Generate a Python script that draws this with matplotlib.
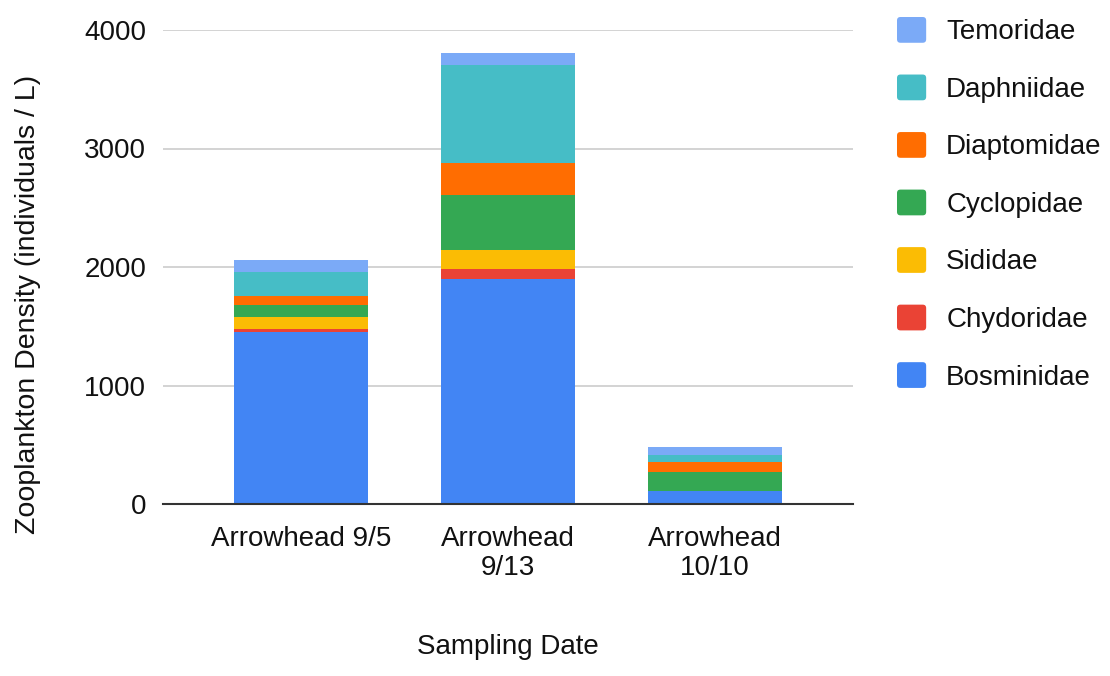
import matplotlib
matplotlib.use("Agg")
import matplotlib.pyplot as plt
from matplotlib.patches import Patch, FancyBboxPatch
from matplotlib.legend_handler import HandlerPatch

plt.rcParams['font.family'] = ['Liberation Sans', 'DejaVu Sans']

samples = ["Arrowhead 9/5", "Arrowhead\n9/13", "Arrowhead\n10/10"]
families = ["Bosminidae", "Chydoridae", "Sididae", "Cyclopidae",
            "Diaptomidae", "Daphniidae", "Temoridae"]
bosminidae = [1455, 1896, 112]
chydoridae = [20, 85, 0]
sididae = [100, 162, 0]
cyclopidae = [102, 465, 161]
diaptomidae = [78, 267, 84]
daphniidae = [203, 830, 57]
temoridae = [101, 98, 64]
series = [bosminidae, chydoridae, sididae, cyclopidae,
          diaptomidae, daphniidae, temoridae]
colors = ["#4285F4", "#EA4335", "#FBBC04", "#34A853",
          "#FF6D01", "#46BDC6", "#7BAAF7"]
yticks = [0, 1000, 2000, 3000, 4000]

FS = 20
TXT = '#111111'

fig = plt.figure(figsize=(11.10, 6.76), dpi=100)
ax = fig.add_axes([163 / 1110, 1 - 504 / 676, 690 / 1110, 474 / 676])

x = list(range(len(samples)))
bottom = [0] * len(samples)
for vals, col in zip(series, colors):
    ax.bar(x, vals, bottom=bottom, width=0.647, color=col, zorder=3,
           linewidth=0)
    bottom = [b + v for b, v in zip(bottom, vals)]

ax.set_xlim(-0.667, 2.667)
ax.set_ylim(0, 4000)
ax.set_yticks(yticks)
ax.set_yticklabels([str(t) for t in yticks])
ax.set_xticks(x)
ax.set_xticklabels(samples, linespacing=1.15)
ax.grid(axis='y', color='#cccccc', linewidth=1.2, zorder=0)
for side in ['left', 'right', 'top']:
    ax.spines[side].set_visible(False)
ax.spines['bottom'].set_color('#333333')
ax.spines['bottom'].set_linewidth(1.5)
ax.spines['bottom'].set_zorder(4)
ax.tick_params(axis='both', length=0, labelsize=FS, colors=TXT)
ax.tick_params(axis='x', pad=16)
ax.tick_params(axis='y', pad=12)

ax.set_xlabel("Sampling Date", fontsize=FS, color=TXT)
ax.xaxis.set_label_coords(0.5, (504 - 647) / 474, transform=ax.transAxes)
ax.xaxis.label.set_va('center')
ax.set_ylabel("Zooplankton Density (individuals / L)", fontsize=20.5,
              color=TXT)
ax.yaxis.set_label_coords((28 - 163) / 690, (504 - 304) / 474,
                          transform=ax.transAxes)
ax.yaxis.label.set_va('center')


class RoundedSquare(HandlerPatch):
    def create_artists(self, legend, orig_handle, xdescent, ydescent,
                       width, height, fontsize, trans):
        p = FancyBboxPatch((-xdescent, -ydescent), width, height,
                           boxstyle="round,pad=0,rounding_size=2.5",
                           facecolor=orig_handle.get_facecolor(),
                           edgecolor='none', transform=trans)
        return [p]


handles = [Patch(facecolor=c, edgecolor='none') for c in colors][::-1]
labels = families[::-1]
fig.legend(handles, labels, loc='upper left',
           bbox_to_anchor=(897 / 1110, 1 - 17 / 676), frameon=False,
           fontsize=FS, handlelength=1.05, handleheight=1.05,
           labelspacing=1.05, handletextpad=0.72, labelcolor=TXT,
           borderaxespad=0, borderpad=0,
           handler_map={Patch: RoundedSquare()})

fig.savefig("out.png", dpi=100)
